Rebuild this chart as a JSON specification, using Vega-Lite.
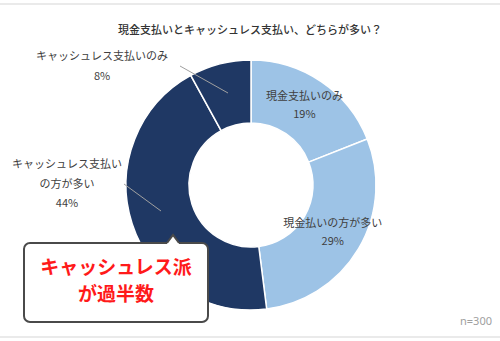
{
  "$schema": "https://vega.github.io/schema/vega-lite/v6.json",
  "width": 500,
  "height": 341,
  "autosize": "none",
  "padding": 0,
  "background": "white",
  "config": {"view": {"stroke": null}, "font": "Noto Sans CJK JP"},
  "title": {"text": "現金支払いとキャッシュレス支払い、どちらが多い？", "font": "Noto Sans CJK JP", "fontSize": 11, "fontWeight": 500, "color": "#333333", "anchor": "middle", "baseline": "middle", "offset": -42},
  "datasets": {
    "shares": [
      {"category": "現金支払いのみ", "label": "現金支払いのみ\n19%", "value": 19, "order": 1},
      {"category": "現金払いの方が多い", "label": "現金払いの方が多い\n29%", "value": 29, "order": 2},
      {"category": "キャッシュレス支払いの方が多い", "label": "キャッシュレス支払い\nの方が多い\n44%", "value": 44, "order": 3},
      {"category": "キャッシュレス支払いのみ", "label": "キャッシュレス支払いのみ\n8%", "value": 8, "order": 4}
    ],
    "outside": [
      {"label": "キャッシュレス支払いのみ\n8%", "x": -149, "y": -128, "lx": -71, "ly": -119, "lx2": -23, "ly2": -92},
      {"label": "キャッシュレス支払い\nの方が多い\n44%", "x": -184, "y": -20, "lx": -127, "ly": -1, "lx2": -90, "ly2": 26}
    ],
    "frame": [{"y": -181}, {"y": 152}],
    "callout": [{"text": "キャッシュレス派\nが過半数", "x": -227, "x2": -43, "y": 58, "y2": 137, "cx": -135, "cy": 83, "px": -78, "py": 54}]
  },
  "layer": [
    {
      "data": {"name": "frame"},
      "mark": {"type": "rule", "stroke": "#e3e3e3", "strokeWidth": 1.5},
      "encoding": {
        "y": {"field": "y", "type": "quantitative", "scale": {"domain": [-185, 156], "reverse": true, "nice": false, "zero": false}, "axis": null},
        "x": {"datum": -251, "type": "quantitative", "scale": {"domain": [-251, 249], "nice": false, "zero": false}, "axis": null},
        "x2": {"datum": 249}
      }
    },
    {
      "data": {"name": "shares"},
      "mark": {"type": "arc", "innerRadius": 62, "outerRadius": 125, "stroke": "white", "strokeWidth": 1.5},
      "encoding": {
        "x": {"datum": 0, "type": "quantitative"},
        "y": {"datum": 0, "type": "quantitative"},
        "theta": {"field": "value", "type": "quantitative", "stack": true},
        "order": {"field": "order", "type": "quantitative"},
        "color": {"field": "category", "type": "nominal", "legend": null,
          "scale": {"domain": ["現金支払いのみ", "現金払いの方が多い", "キャッシュレス支払いの方が多い", "キャッシュレス支払いのみ"], "range": ["#9dc3e6", "#9dc3e6", "#1f3864", "#1f3864"]}}
      }
    },
    {
      "data": {"name": "shares"},
      "transform": [{"filter": "datum.order <= 2"}],
      "mark": {"type": "text", "radius": 95, "dy": -9, "fontSize": 11, "color": "#404040", "lineBreak": "\n", "lineHeight": 18, "align": "center", "baseline": "middle"},
      "encoding": {
        "x": {"datum": 0, "type": "quantitative"},
        "y": {"datum": 0, "type": "quantitative"},
        "theta": {"field": "value", "type": "quantitative", "stack": true},
        "order": {"field": "order", "type": "quantitative"},
        "text": {"field": "label"}
      }
    },
    {
      "data": {"name": "outside"},
      "mark": {"type": "rule", "stroke": "#a0a0a0", "strokeWidth": 1},
      "encoding": {
        "x": {"field": "lx", "type": "quantitative"},
        "y": {"field": "ly", "type": "quantitative"},
        "x2": {"field": "lx2"},
        "y2": {"field": "ly2"}
      }
    },
    {
      "data": {"name": "outside"},
      "mark": {"type": "text", "fontSize": 11, "color": "#404040", "lineBreak": "\n", "lineHeight": 19.5, "align": "center", "baseline": "middle"},
      "encoding": {
        "x": {"field": "x", "type": "quantitative"},
        "y": {"field": "y", "type": "quantitative"},
        "text": {"field": "label"}
      }
    },
    {
      "data": {"name": "callout"},
      "mark": {"type": "rect", "fill": "#000000", "opacity": 0.18, "cornerRadius": 6, "xOffset": 2, "yOffset": 2.5},
      "encoding": {
        "x": {"field": "x", "type": "quantitative"},
        "x2": {"field": "x2"},
        "y": {"field": "y", "type": "quantitative"},
        "y2": {"field": "y2"}
      }
    },
    {
      "data": {"name": "callout"},
      "mark": {"type": "rect", "fill": "white", "stroke": "#4a4a4a", "strokeWidth": 2, "cornerRadius": 6},
      "encoding": {
        "x": {"field": "x", "type": "quantitative"},
        "x2": {"field": "x2"},
        "y": {"field": "y", "type": "quantitative"},
        "y2": {"field": "y2"}
      }
    },
    {
      "data": {"name": "callout"},
      "mark": {"type": "point", "shape": "M-1,0.667L0,-0.667L1,0.667L1,1.1L-1,1.1Z", "size": 144, "filled": true, "fill": "white", "strokeWidth": 0, "opacity": 1},
      "encoding": {
        "x": {"field": "px", "type": "quantitative"},
        "y": {"field": "py", "type": "quantitative"}
      }
    },
    {
      "data": {"name": "callout"},
      "mark": {"type": "point", "shape": "M-1,0.667L0,-0.667L1,0.667", "size": 144, "filled": false, "fill": null, "stroke": "#4a4a4a", "strokeWidth": 2, "opacity": 1},
      "encoding": {
        "x": {"field": "px", "type": "quantitative"},
        "y": {"field": "py", "type": "quantitative"}
      }
    },
    {
      "data": {"name": "callout"},
      "mark": {"type": "text", "fontSize": 19, "fontWeight": "bold", "color": "#ff1a1a", "lineBreak": "\n", "lineHeight": 27, "align": "center", "baseline": "middle"},
      "encoding": {
        "x": {"field": "cx", "type": "quantitative"},
        "y": {"field": "cy", "type": "quantitative"},
        "text": {"field": "text"}
      }
    },
    {
      "data": {"values": [{"n": "n=300", "x": 241, "y": 137}]},
      "mark": {"type": "text", "fontSize": 11, "color": "#a0a0a0", "align": "right", "baseline": "middle", "font": "Noto Sans"},
      "encoding": {
        "x": {"field": "x", "type": "quantitative"},
        "y": {"field": "y", "type": "quantitative"},
        "text": {"field": "n"}
      }
    }
  ]
}
